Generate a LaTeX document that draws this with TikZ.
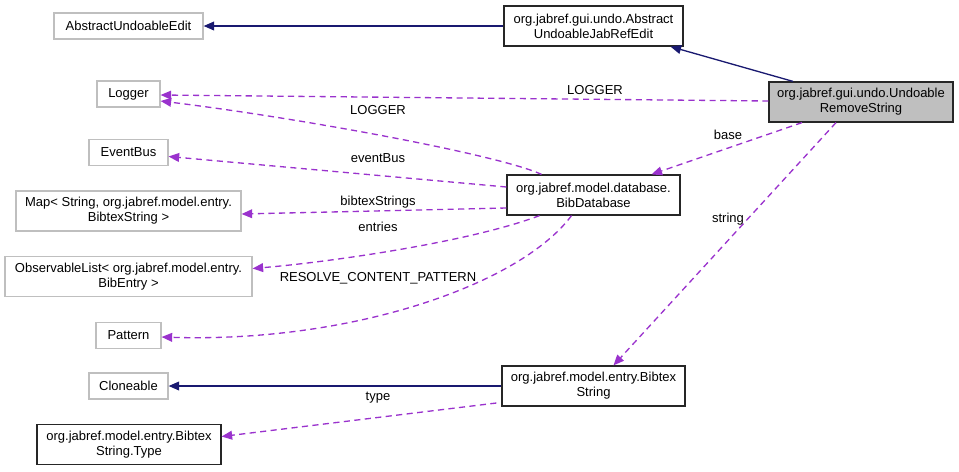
\documentclass[tikz,border=0pt]{standalone}
\usepackage{fontspec}
\setmainfont{Liberation Sans}
\usetikzlibrary{arrows.meta,calc}
\definecolor{usecol}{HTML}{9A32CD}
\definecolor{inhcol}{HTML}{191970}
\definecolor{extcol}{HTML}{BFBFBF}
\begin{document}
\begin{tikzpicture}[x=0.02cm,y=-0.02cm,
  every node/.style={font=\fontsize{7.4}{8.5}\selectfont,align=center,inner sep=0pt},
  ext/.style={draw=extcol,line width=0.7pt,minimum height=0.52cm},
  cls/.style={draw=black!85,line width=0.7pt,minimum height=0.8cm},
  inh/.style={draw=inhcol,line width=0.75pt,-{Triangle[length=6pt,width=5pt]}},
  use/.style={draw=usecol,line width=0.75pt,dash pattern=on 3.5pt off 2.5pt,-{Triangle[length=6pt,width=5pt]}}]
\useasboundingbox (0,0) rectangle (959,471);
% classes
\node[ext,minimum width=2.98cm] (aue) at (128.5,26) {AbstractUndoableEdit};
\node[cls,minimum width=3.58cm] (aujre) at (593.5,26) {org.jabref.gui.undo.Abstract\\UndoableJabRefEdit};
\node[cls,fill=extcol,minimum width=3.68cm] (urs) at (861,102) {org.jabref.gui.undo.Undoable\\RemoveString};
\node[ext,minimum width=1.26cm] (logger) at (128.5,94) {Logger};
\node[ext,minimum width=1.58cm] (eventbus) at (128.5,152.5) {EventBus};
\node[ext,minimum width=4.5cm,minimum height=0.8cm] (map) at (128.5,211) {Map\textless{} String, org.jabref.model.entry.\\BibtexString \textgreater{}};
\node[cls,minimum width=3.46cm] (bibdb) at (593.5,195) {org.jabref.model.database.\\BibDatabase};
\node[ext,minimum width=4.94cm,minimum height=0.8cm] (obslist) at (128.5,276.5) {ObservableList\textless{} org.jabref.model.entry.\\BibEntry \textgreater{}};
\node[ext,minimum width=1.3cm] (pattern) at (128.5,335.5) {Pattern};
\node[ext,minimum width=1.58cm] (cloneable) at (128.5,386) {Cloneable};
\node[cls,minimum width=3.68cm] (strtype) at (129,444.5) {org.jabref.model.entry.Bibtex\\String.Type};
\node[cls,minimum width=3.66cm] (bibstr) at (593.5,386) {org.jabref.model.entry.Bibtex\\String};
% inheritance
\draw[inh] (aujre) -- (aue);
\draw[inh] ($(urs.north)+(-68,0)$) -- ($(aujre.south)+(77,0)$);
\draw[inh] (bibstr) -- (cloneable);
% usage
\draw[use] ($(urs.west)+(0,-1)$) -- ($(logger.east)+(0,1)$);
\draw[use] ($(bibdb.north)+(-52,0)$) .. controls (500,155) and (300,118) .. ($(logger.east)+(0,7)$);
\draw[use] ($(bibdb.west)+(0,-8)$) -- ($(eventbus.east)+(0,4)$);
\draw[use] ($(bibdb.west)+(0,13)$) -- ($(map.east)+(0,3)$);
\draw[use] ($(bibdb.south)+(-54,0)$) .. controls (470,242) and (330,262) .. ($(obslist.east)+(0,-8)$);
\draw[use] ($(bibdb.south)+(-22,0)$) .. controls (520,285) and (350,343) .. ($(pattern.east)+(0,1.5)$);
\draw[use] ($(urs.south)+(-59,0)$) -- ($(bibdb.north)+(58,0)$);
\draw[use] ($(urs.south)+(-25,0)$) -- ($(bibstr.north)+(20,0)$);
\draw[use] ($(bibstr.west)+(-5,17)$) -- ($(strtype.east)+(0,-8)$);
% labels
\node (lblLogger) at (595,90) {LOGGER};
\node (lblLoggerDb) at (378,110) {LOGGER};
\node (lblEventBus) at (378,158) {eventBus};
\node (lblStrings) at (378,202) {bibtexStrings};
\node (lblEntries) at (378,227) {entries};
\node (lblPattern) at (378,278) {RESOLVE\_CONTENT\_PATTERN};
\node (lblBase) at (728,135) {base};
\node (lblString) at (728,219) {string};
\node (lblType) at (378,398) {type};
\end{tikzpicture}
\end{document}
